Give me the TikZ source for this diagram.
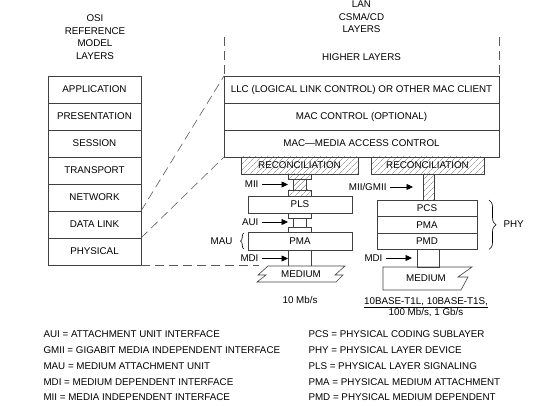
\documentclass[tikz,border=0pt]{standalone}
\usepackage{fontspec}
\setmainfont{Liberation Sans}
\usetikzlibrary{positioning}
\usetikzlibrary{arrows.meta}
\usetikzlibrary{patterns.meta}
\usetikzlibrary{decorations.pathreplacing}

\tikzset{
  layer/.style = {draw = black!75, line width = .6pt, inner sep = 0pt, outer sep = 0pt},
  osilayer/.style = {layer, minimum width = 93pt, minimum height = 27pt},
  lanlayer/.style = {layer, minimum width = 275pt, minimum height = 27pt},
  hatched/.style = {draw = black!75, line width = .6pt,
    pattern = {Lines[angle = 45, distance = 4pt, line width = .4pt]}, pattern color = black!55},
  guide/.style = {draw = black!65, line width = .6pt, dash pattern = on 9pt off 5pt},
  pointer/.style = {-{Triangle[length = 6.5pt, width = 6pt]}, line width = .7pt},
}

\begin{document}
\begin{tikzpicture}[x = 1pt, y = -1pt, font = \fontsize{9.8}{12.6}\selectfont]
  \useasboundingbox (0, 0) rectangle (558, 406);

  \node[align = center] (osihead) at (95, 37) {OSI\\REFERENCE\\MODEL\\LAYERS};
  \node[align = center] (lanhead) at (361.5, 17) {LAN\\CSMA/CD\\LAYERS};

  \node[osilayer] (app) at (94.5, 89.5) {APPLICATION};
  \node[osilayer, below = 0pt of app] (pres) {PRESENTATION};
  \node[osilayer, below = 0pt of pres] (sess) {SESSION};
  \node[osilayer, below = 0pt of sess] (trans) {TRANSPORT};
  \node[osilayer, below = 0pt of trans] (net) {NETWORK};
  \node[osilayer, below = 0pt of net] (dlink) {DATA LINK};
  \node[osilayer, below = 0pt of dlink] (phys) {PHYSICAL};

  \node (higher) at (361.5, 57) {HIGHER LAYERS};
  \node[lanlayer] (llc) at (361.5, 89.5) {LLC (LOGICAL LINK CONTROL) OR OTHER MAC CLIENT};
  \node[lanlayer, below = 0pt of llc] (macctl) {MAC CONTROL (OPTIONAL)};
  \node[lanlayer, below = 0pt of macctl] (mac) {MAC---MEDIA ACCESS CONTROL};
  \draw[guide] (224, 37) -- (llc.north west);
  \draw[guide] (499, 37) -- (llc.north east);

  \draw[guide] (net.south east) -- (llc.north west);
  \draw[guide] (dlink.south east) -- (mac.south west);
  \coordinate (mdiend) at (259, 265);
  \draw[guide] (phys.south east) -- (mdiend);

  \node[hatched, minimum width = 117pt, minimum height = 17pt, inner sep = 0pt] (reconl)
    at (299.5, 165.5) {RECONCILIATION};
  \draw[hatched] (288, 174) rectangle (311, 179);
  \draw[hatched] (293, 179) rectangle (306, 190);
  \draw[hatched] (288, 190) rectangle (311, 196);
  \node[layer, minimum width = 104pt, minimum height = 17pt] (pls) at (300, 204.5) {PLS};
  \draw[layer] (288, 213) rectangle (311, 218);
  \draw[layer] (293, 218) rectangle (306, 227);
  \draw[layer] (288, 227) rectangle (311, 232);
  \node[layer, minimum width = 104pt, minimum height = 18pt] (pmal) at (300, 241) {PMA};
  \draw[layer] (288, 250) -- (288, 266);
  \draw[layer] (311, 250) -- (311, 266);
  \draw[layer] (268, 266) -- (345, 266) -- (335, 275) -- (343, 275) -- (336, 282)
    -- (257, 282) -- (266, 275) -- (258, 275) -- cycle;
  \node (mediuml) at (301, 274.5) {MEDIUM};

  \node[hatched, minimum width = 113pt, minimum height = 17pt, inner sep = 0pt] (reconr)
    at (427.5, 165.5) {RECONCILIATION};
  \draw[hatched] (423, 174) rectangle (434, 200);
  \node[layer, minimum width = 100pt, minimum height = 16.5pt] (pcs) at (427, 208.25) {PCS};
  \node[layer, minimum width = 100pt, minimum height = 16.5pt, below = 0pt of pcs] (pmar) {PMA};
  \node[layer, minimum width = 100pt, minimum height = 16.5pt, below = 0pt of pmar] (pmd) {PMD};
  \draw[layer] (417, 249.5) rectangle (439, 267);
  \draw[layer] (383, 267) -- (472, 267) -- (458, 277) -- (468, 277) -- (461, 290)
    -- (383, 290) -- cycle;
  \node (mediumr) at (426, 278.5) {MEDIUM};

  \node[anchor = east] (miilbl) at (262, 184.5) {MII};
  \coordinate (miiin) at (288, 184.5);
  \draw[pointer] (miilbl) -- (miiin);
  \node[anchor = east] (auilbl) at (262, 222) {AUI};
  \coordinate (auiin) at (288, 222);
  \draw[pointer] (auilbl) -- (auiin);
  \node[anchor = east] (mdillbl) at (262, 258.5) {MDI};
  \coordinate (mdilin) at (288, 258.5);
  \draw[pointer] (mdillbl) -- (mdilin);
  \node[anchor = east] (maulbl) at (236, 241) {MAU};
  \draw[line width = .6pt, decorate, decoration = {brace, amplitude = 3.5pt}]
    (244, 249) -- (244, 233);

  \node[anchor = east] (gmiilbl) at (390, 187) {MII/GMII};
  \coordinate (gmiiin) at (413, 187);
  \draw[pointer] (gmiilbl) -- (gmiiin);
  \node[anchor = east] (mdirlbl) at (386, 258) {MDI};
  \coordinate (mdirin) at (412, 258);
  \draw[pointer] (mdirlbl) -- (mdirin);
  \draw[line width = .6pt, decorate, decoration = {brace, amplitude = 7pt}]
    (489, 200) -- (489, 249.5);
  \node[anchor = west] (phy) at (500, 224.5) {PHY};

  \node (speedl) at (300, 300) {10 Mb/s};
  \node[align = center, font = \fontsize{9.8}{11}\selectfont] (speedr) at (426, 307)
    {\underline{10BASE-T1L, 10BASE-T1S,}\\100 Mb/s, 1 Gb/s};

  \node[anchor = west] (aui) at (40, 334.5) {AUI = ATTACHMENT UNIT INTERFACE};
  \node[anchor = west] (gmii) at (40, 350.5) {GMII = GIGABIT MEDIA INDEPENDENT INTERFACE};
  \node[anchor = west] (mau) at (40, 366.5) {MAU = MEDIUM ATTACHMENT UNIT};
  \node[anchor = west] (mdi) at (40, 382) {MDI = MEDIUM DEPENDENT INTERFACE};
  \node[anchor = west] (mii) at (40, 397) {MII = MEDIA INDEPENDENT INTERFACE};
  \node[anchor = west] (pcsdef) at (305, 334) {PCS = PHYSICAL CODING SUBLAYER};
  \node[anchor = west] (phydef) at (305, 350.5) {PHY = PHYSICAL LAYER DEVICE};
  \node[anchor = west] (plsdef) at (305, 366.5) {PLS = PHYSICAL LAYER SIGNALING};
  \node[anchor = west] (pmadef) at (305, 382) {PMA = PHYSICAL MEDIUM ATTACHMENT};
  \node[anchor = west] (pmddef) at (305, 397) {PMD = PHYSICAL MEDIUM DEPENDENT};
\end{tikzpicture}
\end{document}
